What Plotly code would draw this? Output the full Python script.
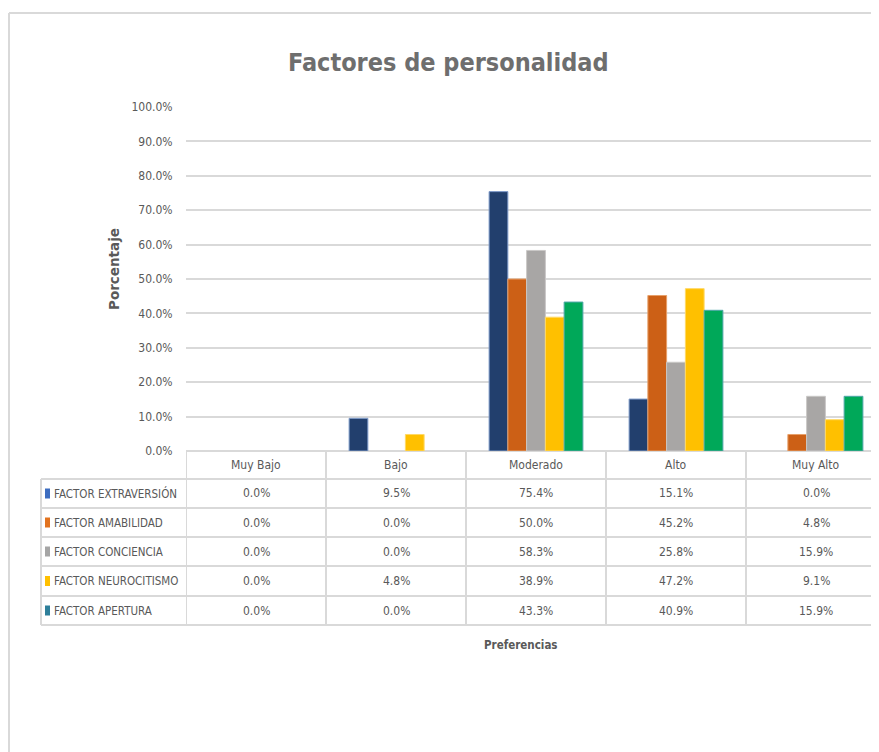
import plotly.graph_objects as go

# ---------------- data ----------------
categories = ["Muy Bajo", "Bajo", "Moderado", "Alto", "Muy Alto"]
series_names = ["FACTOR EXTRAVERSIÓN", "FACTOR AMABILIDAD", "FACTOR CONCIENCIA",
                "FACTOR NEUROCITISMO", "FACTOR APERTURA"]
extraversion = [0.0, 0.095, 0.754, 0.151, 0.0]
amabilidad = [0.0, 0.0, 0.500, 0.452, 0.048]
conciencia = [0.0, 0.0, 0.583, 0.258, 0.159]
neurocitismo = [0.0, 0.048, 0.389, 0.472, 0.091]
apertura = [0.0, 0.0, 0.433, 0.409, 0.159]
series_values = [extraversion, amabilidad, conciencia, neurocitismo, apertura]
y_ticks = [0.0, 0.1, 0.2, 0.3, 0.4, 0.5, 0.6, 0.7, 0.8, 0.9, 1.0]

title_text = "Factores de personalidad"
y_title = "Porcentaje"
x_title = "Preferencias"

# ---------------- styles ----------------
bar_colors = ["#223F6D", "#CC6016", "#A8A6A5", "#FFC000", "#00A859"]
bar_edges = ["#7F9CCB", "#E7A06A", "#C9C7C6", "#FFD966", "#4FA7A8"]
key_colors = ["#3D6DC0", "#E2731F", "#A5A5A5", "#FFC000", "#2E7F9A"]
FONT = "DejaVu Sans Condensed, Liberation Sans Narrow, sans-serif"
TXT = "#595959"
LINE = "#D9D9D9"

OFF = 8  # page body offset
W, H = 871, 744
ML, MR, MT = 186 - OFF, 0, 107 - OFF
MB = H - (451 - OFF)
PW = W - ML - MR
PH = H - MT - MB
CAT_PX = 140  # width of one category column in the reference


def py(pix):
    return (H - MB - (pix - OFF)) / PH


def px(pix):
    return (pix - OFF - ML) / PW


fig = go.Figure()
for name, vals, c, e in zip(series_names, series_values, bar_colors, bar_edges):
    fig.add_trace(go.Bar(
        x=list(range(len(categories))), y=vals, name=name,
        marker=dict(color=c, line=dict(color=e, width=[0 if v == 0 else 1 for v in vals])),
        hoverinfo="skip", showlegend=False,
    ))

shapes = []
annotations = []

# outer frame (partial, as in the reference)
shapes.append(dict(type="line", xref="paper", yref="paper", x0=px(9), x1=px(W + 20),
                   y0=py(13), y1=py(13), line=dict(color=LINE, width=2)))
shapes.append(dict(type="line", xref="paper", yref="paper", x0=px(9), x1=px(9),
                   y0=py(13), y1=py(H + 20), line=dict(color=LINE, width=2)))

# data table lines
row_lines = [479, 508, 537, 566, 596, 625]
for r in row_lines:
    shapes.append(dict(type="line", xref="paper", yref="paper", x0=px(41), x1=1.0,
                       y0=py(r), y1=py(r), line=dict(color=LINE, width=2)))
for i in range(len(categories)):
    shapes.append(dict(type="line", xref="x", yref="paper", x0=i - 0.5, x1=i - 0.5,
                       y0=py(451), y1=py(625), line=dict(color=LINE, width=2)))
shapes.append(dict(type="line", xref="paper", yref="paper", x0=px(41), x1=px(41),
                   y0=py(479), y1=py(625), line=dict(color=LINE, width=2)))

cell_font = dict(family=FONT, size=12, color=TXT)
for i, cat in enumerate(categories):
    annotations.append(dict(x=i, y=py(465), xref="x", yref="paper", text=cat,
                            showarrow=False, xanchor="center", yanchor="middle",
                            font=cell_font))

row_centers = [493.5, 522.5, 551.5, 581, 610.5]
for name, vals, kc, rc in zip(series_names, series_values, key_colors, row_centers):
    shapes.append(dict(type="rect", xref="paper", yref="paper", x0=px(45), x1=px(50),
                       y0=py(rc + 5), y1=py(rc - 5), fillcolor=kc, line=dict(width=0)))
    annotations.append(dict(x=px(52), y=py(rc), xref="paper", yref="paper", text=name,
                            showarrow=False, xanchor="left", yanchor="middle",
                            font=dict(family=FONT, size=11.5, color=TXT)))
    for i, v in enumerate(vals):
        annotations.append(dict(x=i, y=py(rc), xref="x", yref="paper",
                                text=f"{v * 100:.1f}%", showarrow=False,
                                xanchor="center", yanchor="middle", font=cell_font))

annotations.append(dict(x=px(114), y=py(269), xref="paper", yref="paper", text=y_title,
                        textangle=-90, showarrow=False, xanchor="center", yanchor="middle",
                        font=dict(family="DejaVu Sans, sans-serif", size=13.5, color=TXT,
                                  weight="bold")))
annotations.append(dict(x=px(521), y=py(645), xref="paper", yref="paper", text=x_title,
                        showarrow=False, xanchor="center", yanchor="middle",
                        font=dict(family=FONT, size=11.5, color=TXT, weight="bold")))
annotations.append(dict(x=px(448), y=py(62), xref="paper", yref="paper", text=title_text,
                        showarrow=False, xanchor="center", yanchor="middle",
                        font=dict(family=FONT, size=25, color="#6E6E6E", weight="bold")))

fig.update_layout(
    width=W, height=H,
    margin=dict(l=ML, r=MR, t=MT, b=MB, autoexpand=False),
    paper_bgcolor="white", plot_bgcolor="white",
    barmode="group", bargap=0.33, bargroupgap=0.0,
    shapes=shapes, annotations=annotations,
    xaxis=dict(range=[-0.5, -0.5 + PW / CAT_PX], showticklabels=False, showgrid=False,
               zeroline=False, showline=False, ticks=""),
    yaxis=dict(range=[0, 1], tickvals=y_ticks, tickformat=".1%", showgrid=True,
               gridcolor=LINE, gridwidth=2, zeroline=True, zerolinecolor=LINE,
               zerolinewidth=2, showline=False, ticks="outside", ticklen=10,
               tickcolor="rgba(0,0,0,0)",
               tickfont=dict(family=FONT, size=12, color=TXT)),
    showlegend=False,
)

fig.write_html("out.html")
